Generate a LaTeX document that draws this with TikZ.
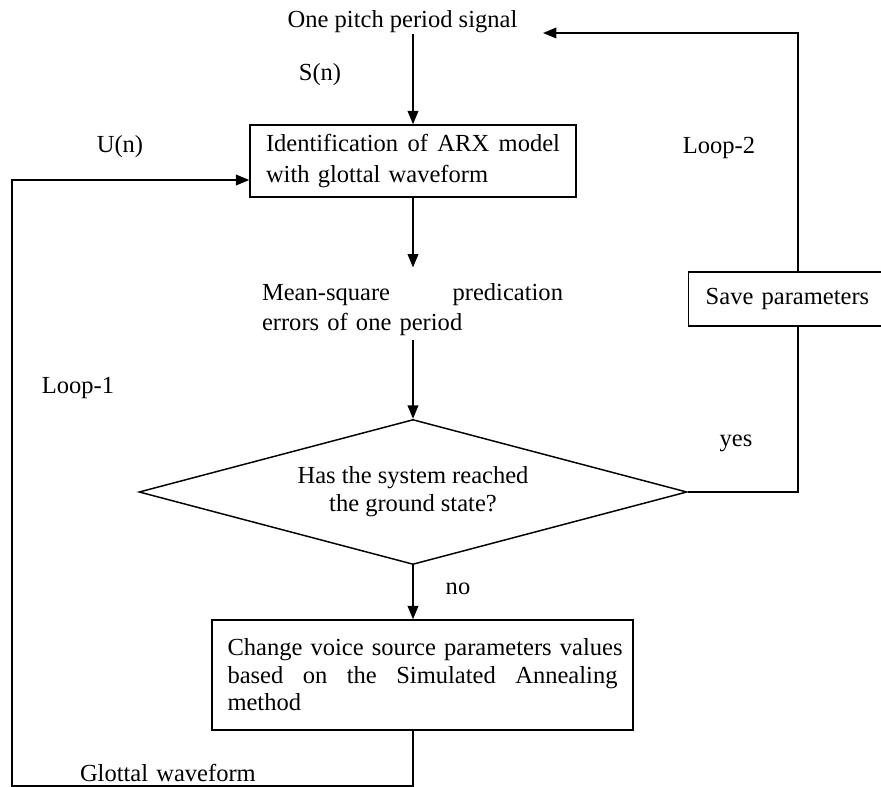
\documentclass[tikz,border=0pt]{standalone}
\usepackage{fontspec}
\setmainfont{Liberation Serif}
\usetikzlibrary{shapes.geometric,arrows.meta}
\def\px{0.75pt}
\begin{document}
\begin{tikzpicture}[x=0.75pt,y=-0.75pt, line width=1.1pt,
  >={Triangle[length=10pt,width=8pt]},
  every node/.style={font=\fontsize{18.4}{22}\selectfont},
  box/.style={draw, rectangle, inner ysep=0pt},
  lbl/.style={inner sep=0pt}]
\useasboundingbox (0,0) rectangle (881,787);
\clip (0,0) rectangle (881,787);

% nodes
\node[lbl] (sig) at (402.5,22) {One pitch period signal};
\node[box, minimum width=326*\px, minimum height=72*\px, inner xsep=16*\px,
      text width=294*\px, align=left, font=\fontsize{18.4}{23}\selectfont]
      (arx) at (413,161) {Identification\hfill of\hfill ARX\hfill model\\with glottal waveform};
\node[inner xsep=0pt, inner ysep=2pt, text width=301*\px, align=left,
      font=\fontsize{18.4}{22.5}\selectfont]
      (mse) at (412.5,310) {Mean-square\hfill predication\\errors of one period};
\node[draw, diamond, aspect=3.78, minimum width=548*\px, minimum height=145*\px,
      inner sep=0pt, align=center, font=\fontsize{18.4}{21}\selectfont]
      (dia) at (413,492) {Has the system reached\\the ground state?};
\node[box, minimum width=421*\px, minimum height=110*\px, inner xsep=15.5*\px,
      text width=390*\px, align=left, font=\fontsize{18.4}{20.6}\selectfont]
      (chg) at (422.5,675) {\mbox{Change voice source parameters values}\\based\hfill on\hfill the\hfill Simulated\hfill Annealing\\method};
\node[box, anchor=west, minimum width=220*\px, minimum height=54*\px,
      inner xsep=17*\px, text width=186*\px, align=left]
      (save) at (688,299) {Save parameters};

% coordinates for the loop corners
\coordinate (tr) at (798,33);
\coordinate (tip) at (543,33);
\coordinate (bl) at (12,786);
\coordinate (ul) at (12,180);

% connectors
\draw[->] (arx.north |- sig.south) -- (arx.north);
\draw[->, shorten >=13*\px] (arx.south -| dia.north) -- (dia.north |- mse.north);
\draw[->] (dia.north |- mse.south) -- (dia.north);
\draw[->] (dia.south) -- (dia.south |- chg.north);
\draw (dia.east) -- (dia.east -| tr) -- (save.south -| tr);
\draw[->] (save.north -| tr) -- (tr) -- (tip);
\draw[->] (chg.south -| dia.south) -- (dia.south |- bl) -- (bl) -- (ul) -- (ul -| arx.west);

% labels
\node[lbl] (sn) at (320,75) {S(n)};
\node[lbl] (un) at (120,147) {U(n)};
\node[lbl] (l2) at (719,148) {Loop-2};
\node[lbl] (l1) at (78,388) {Loop-1};
\node[lbl] (yes) at (736,443) {yes};
\node[lbl] (no) at (458,589) {no};
\node[fill=white, inner xsep=15*\px, inner ysep=2pt, text width=192*\px, align=left]
      (gw) at (176,773) {Glottal waveform};
\end{tikzpicture}
\end{document}
